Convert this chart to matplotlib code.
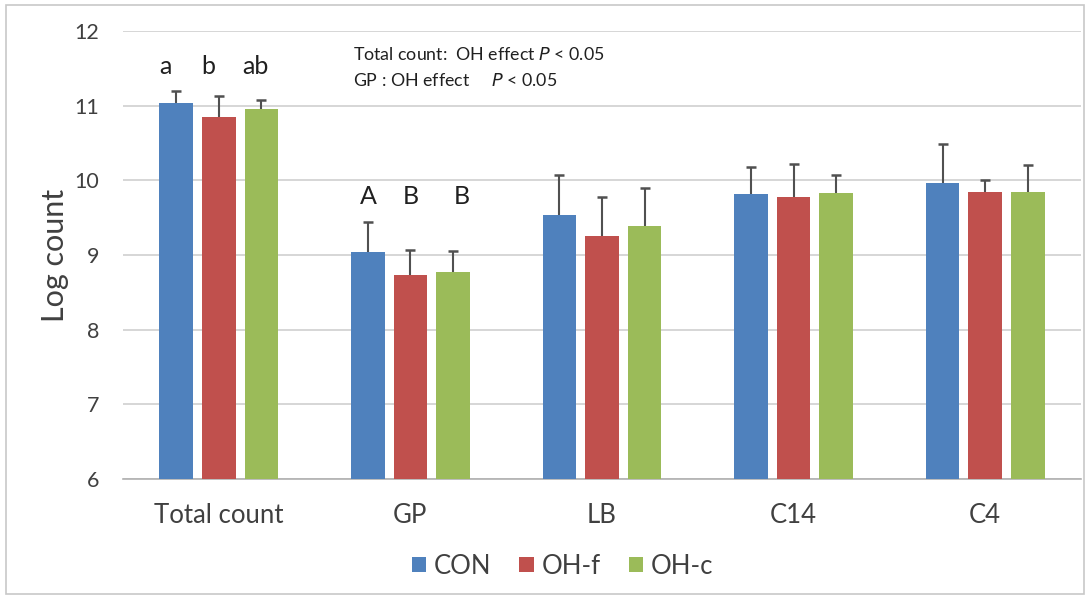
import matplotlib
matplotlib.use("Agg")
import matplotlib.pyplot as plt
import numpy as np
from matplotlib.patches import Rectangle

categories = ["Total count", "GP", "LB", "C14", "C4"]
series_names = ["CON", "OH-f", "OH-c"]
con = [11.04, 9.04, 9.54, 9.82, 9.97]
ohf = [10.85, 8.73, 9.25, 9.78, 9.84]
ohc = [10.95, 8.77, 9.39, 9.83, 9.84]
con_err = [0.16, 0.40, 0.53, 0.36, 0.51]
ohf_err = [0.28, 0.34, 0.53, 0.44, 0.17]
ohc_err = [0.13, 0.28, 0.51, 0.24, 0.36]
letters_total = ["a", "b", "ab"]
letters_gp = ["A", "B", "B"]
colors = ["#4F81BD", "#C0504D", "#9BBB59"]

plt.rcParams['font.family'] = ['Lato', 'DejaVu Sans']

fig = plt.figure(figsize=(10.9, 5.98), dpi=100)
ax = fig.add_axes([123/1090, 1 - 479/598, (1081-123)/1090, (479-31)/598])

x = np.arange(len(categories))
w = 0.175
step = 0.222
vals = [con, ohf, ohc]
errs = [con_err, ohf_err, ohc_err]
for i, (v, e, c, n) in enumerate(zip(vals, errs, colors, series_names)):
    xs = x + (i - 1) * step
    v = np.array(v)
    e = np.array(e)
    ax.bar(xs, v - 6, bottom=6, width=w, color=c, label=n, zorder=3)
    ax.vlines(xs, v, v + e, color='#505050', linewidth=1.5, zorder=4)
    ax.plot(xs, v + e, linestyle='none', marker='_', markersize=7, markeredgewidth=1.8,
            color='#505050', zorder=4)

ax.set_xlim(-0.5, len(categories) - 0.5)
ax.set_ylim(6, 12)
ax.set_yticks(range(6, 13))
ax.yaxis.grid(True, color='#D0D0D0', linewidth=1.2, zorder=0)
ax.set_axisbelow(True)
for s in ['top', 'right', 'left']:
    ax.spines[s].set_visible(False)
ax.spines['bottom'].set_color('#B0B0B0')
ax.spines['bottom'].set_linewidth(1.2)
ax.tick_params(axis='both', length=0, colors='#404040')
ax.tick_params(axis='y', pad=17, labelsize=15.5)
ax.tick_params(axis='x', pad=17, labelsize=18.5)
ax.set_xticks(x)
ax.set_xticklabels(categories)
ax.set_ylabel("Log count", fontsize=22, color='#404040', labelpad=4)

offs_total = [-0.055, -0.055, -0.03]
offs_gp = [0.0, 0.0, 0.045]
for i, l in enumerate(letters_total):
    ax.text(0 + (i - 1) * step + offs_total[i], 11.52, l, ha='center', va='center',
            fontsize=18, color='#202020')
for i, l in enumerate(letters_gp):
    ax.text(1 + (i - 1) * step + offs_gp[i], 9.79, l, ha='center', va='center',
            fontsize=18, color='#202020')

ax.text(353/1090, 1 - 55/598, r"Total count:  OH effect $\it{P}$ < 0.05", transform=fig.transFigure,
        ha='left', va='center', fontsize=12.8, color='#202020')
ax.text(353/1090, 1 - 80/598, r"GP : OH effect     $\it{P}$ < 0.05", transform=fig.transFigure,
        ha='left', va='center', fontsize=12.8, color='#202020')

leg = fig.legend(loc='center', bbox_to_anchor=(0.516, 1 - 566/598), ncol=3, frameon=False,
                 fontsize=18.5, handlelength=0.55, handleheight=0.55, handletextpad=0.3,
                 columnspacing=1.1)
for t in leg.get_texts():
    t.set_color('#404040')

fig.patches.append(Rectangle((6/1090, 0.006), 1 - 12/1090, 1 - 0.006 - 5/598,
                             transform=fig.transFigure, fill=False,
                             edgecolor='#C8C8C8', linewidth=1.2))

fig.savefig("out.png", dpi=100)
